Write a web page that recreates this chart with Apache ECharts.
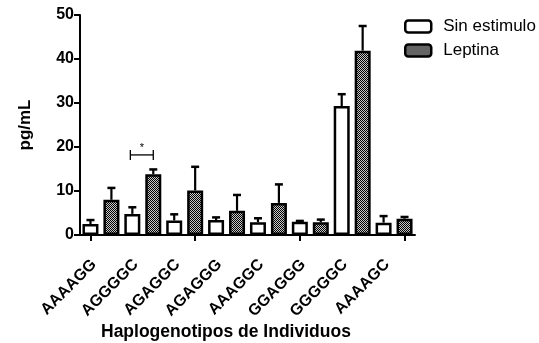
<!DOCTYPE html>
<html>
<head>
<meta charset="utf-8">
<script src="https://cdn.jsdelivr.net/npm/echarts@6/dist/echarts.min.js"></script>
<style>html,body{margin:0;padding:0;background:#fff}#c{width:539px;height:343px}</style>
</head>
<body>
<div id="c"></div>
<script>
// ---- data ----
const categories = ['AAAAGG','AGGGGC','AGAGGC','AGAGGG','AAAGGC','GGAGGG','GGGGGC','AAAAGC'];
const sinEstimulo = [2.5, 4.8, 3.3, 3.4, 2.9, 3.0, 29.3, 2.8];
const sinEstimuloErr = [0.9, 1.5, 1.4, 0.6, 0.9, 0.2, 2.7, 1.5];
const leptina = [8.0, 13.8, 10.1, 5.5, 7.3, 2.9, 41.9, 3.7];
const leptinaErr = [2.7, 1.1, 5.4, 3.6, 4.2, 0.6, 5.6, 0.4];
const yTicks = [0, 10, 20, 30, 40, 50];
const seriesNames = ['Sin estimulo', 'Leptina'];
const sigBars = [2, 3];      // bar slots (AGGGGC pair)
const sigValue = 18.2;
const sigLabel = '*';

// ---- build ----
const FONT = 'Liberation Sans, Arial, sans-serif';
const pat = document.createElement('canvas');
pat.width = 2; pat.height = 2;
const pc = pat.getContext('2d');
pc.fillStyle = '#c8c8c8'; pc.fillRect(0,0,2,2);
pc.fillStyle = '#000'; pc.fillRect(0,0,1,1); pc.fillRect(1,1,1,1);

const slots = [];
categories.forEach((c,i)=>{ slots.push(c+'_s'); slots.push(c+'_l'); });
const errData = [];
categories.forEach((c,i)=>{
  errData.push([2*i, sinEstimulo[i], sinEstimuloErr[i]]);
  errData.push([2*i+1, leptina[i], leptinaErr[i]]);
});

const chart = echarts.init(document.getElementById('c'));
chart.setOption({
  animation: false,
  textStyle: {fontFamily: FONT},
  title: {text: 'Haplogenotipos de Individuos', left: 96, top: 318,
    textStyle: {fontFamily: FONT, fontSize: 17.5, fontWeight: 'bold', color: '#000'}},
  legend: {orient: 'vertical', left: 399, top: 13, itemWidth: 26, itemHeight: 12, itemGap: 7,
    data: [{name: seriesNames[0]}, {name: seriesNames[1], itemStyle: {color: {image: pat, repeat: 'repeat'}}}],
    textStyle: {fontFamily: FONT, fontSize: 17, color: '#000', padding: [0, 0, 0, 7]},
    itemStyle: {borderColor: '#000', borderWidth: 2.5}},
  grid: {left: 80, right: 124, top: 15, bottom: 108, containLabel: false},
  xAxis: [{
    type: 'category', data: categories, boundaryGap: true,
    axisLine: {show: true, lineStyle: {color: '#000', width: 2}},
    axisTick: {show: false},
    axisLabel: {rotate: 45, margin: 20, padding: [0, 10, 0, 0], fontSize: 16, fontWeight: 'bold', color: '#000', fontFamily: FONT},
  }, {
    type: 'category', data: slots, boundaryGap: true, position: 'bottom',
    axisLine: {show: false},
    axisTick: {show: true, alignWithLabel: true, length: 6, lineStyle: {color: '#000', width: 2}},
    axisLabel: {show: false}
  }],
  yAxis: {
    type: 'value', min: 0, max: 50, interval: 10,
    name: 'pg/mL', nameLocation: 'middle', nameGap: 46, nameRotate: 90,
    nameTextStyle: {fontFamily: FONT, fontSize: 17, fontWeight: 'bold', color: '#000'},
    axisLine: {show: true, lineStyle: {color: '#000', width: 2}},
    axisTick: {show: true, length: 6, lineStyle: {color: '#000', width: 2}},
    axisLabel: {fontSize: 16, fontWeight: 'bold', color: '#000', margin: 6, fontFamily: FONT,
      formatter: v => yTicks.includes(v) ? String(v) : ''},
    splitLine: {show: false}
  },
  series: [{
    name: seriesNames[0], type: 'bar', xAxisIndex: 0, data: sinEstimulo,
    barWidth: 16, barGap: '31%',
    itemStyle: {color: '#fff', borderColor: '#000', borderWidth: 2.5}
  }, {
    name: seriesNames[1], type: 'bar', xAxisIndex: 0, data: leptina,
    barWidth: 16, barGap: '31%',
    itemStyle: {color: {image: pat, repeat: 'repeat'}, borderColor: '#000', borderWidth: 2.5}
  }, {
    type: 'custom', xAxisIndex: 1, data: errData, z: 1,
    renderItem: (params, api) => {
      const x = api.value(0), v = api.value(1), e = api.value(2);
      const p0 = api.coord([x, v]);
      const p1 = api.coord([x, v + e]);
      return {type: 'group', children: [
        {type: 'line', shape: {x1: p0[0], y1: p0[1], x2: p1[0], y2: p1[1]}, style: {stroke: '#000', lineWidth: 2.2}},
        {type: 'line', shape: {x1: p1[0]-4, y1: p1[1], x2: p1[0]+4, y2: p1[1]}, style: {stroke: '#000', lineWidth: 2.5}}
      ]};
    }
  }, {
    type: 'custom', xAxisIndex: 1, data: [[sigBars[0], sigBars[1], sigValue]], z: 5,
    renderItem: (params, api) => {
      const a = api.coord([api.value(0), api.value(2)]);
      const b = api.coord([api.value(1), api.value(2)]);
      const st = {stroke: '#000', lineWidth: 1.3};
      return {type: 'group', children: [
        {type: 'line', shape: {x1: a[0]-2, y1: a[1], x2: b[0], y2: b[1]}, style: st},
        {type: 'line', shape: {x1: a[0]-2, y1: a[1]-5, x2: a[0]-2, y2: a[1]+5}, style: st},
        {type: 'line', shape: {x1: b[0], y1: b[1]-5, x2: b[0], y2: b[1]+5}, style: st},
        {type: 'text', style: {text: sigLabel, x: (a[0]+b[0])/2 - 1, y: a[1] - 1, align: 'center', verticalAlign: 'bottom',
          fontSize: 11, fontFamily: FONT, fill: '#000'}}
      ]};
    }
  }]
});
</script>
</body>
</html>
